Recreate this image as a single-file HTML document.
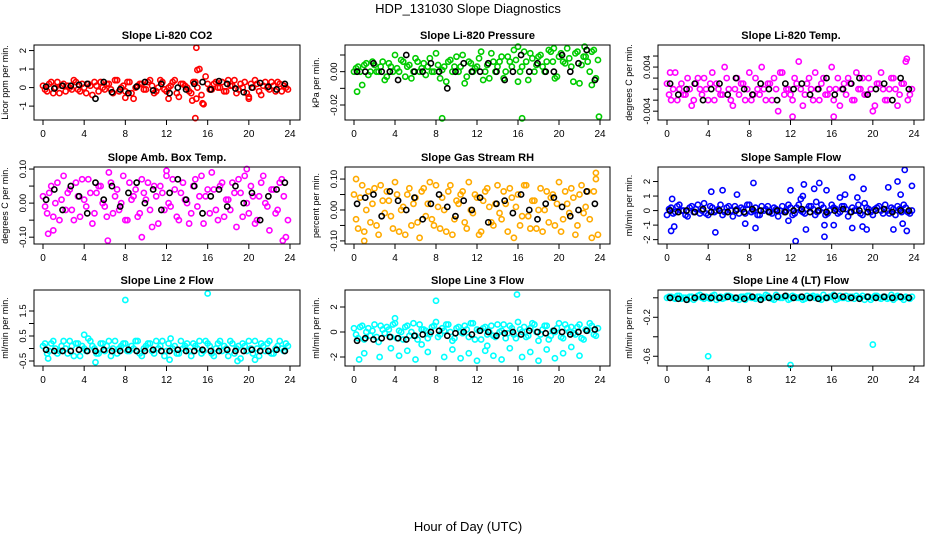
<!DOCTYPE html>
<html><head><meta charset="utf-8"><style>
html,body{margin:0;padding:0;background:#fff;}
svg{display:block;font-family:"Liberation Sans",Arial,sans-serif;}
</style></head><body>
<svg id="c" width="936" height="540" viewBox="0 0 936 540">
<text x="468" y="13" font-size="13" text-anchor="middle">HDP_131030  Slope Diagnostics</text>
<text x="468" y="531" font-size="13" text-anchor="middle">Hour of Day (UTC)</text>
</svg>
<script>
const titles=["Slope Li-820 CO2","Slope Li-820 Pressure","Slope Li-820 Temp.","Slope Amb. Box Temp.","Slope Gas Stream RH","Slope Sample Flow","Slope Line 2 Flow","Slope Line 3 Flow","Slope Line 4 (LT) Flow"];
const yLabels=["Licor ppm per min.","kPa per min.","degrees C per min.","degrees C per min.","percent per min.","ml/min per min.","ml/min per min.","ml/min per min.","ml/min per min."];
const colors=["#ff0000","#00cc00","#ff00ff","#ff00ff","#ffaa00","#0000ff","#00ffff","#00ffff","#00ffff"];
const yTicks=[[-1,0,1,2],[-0.02,-0.01,0,0.01],[-0.004,-0.002,0,0.002,0.004,0.006],[-0.1,-0.05,0,0.05,0.1],[-0.1,-0.05,0,0.05,0.1],[-2,-1,0,1,2],[-0.5,0,0.5,1,1.5],[-2,0,2],[0,-0.2,-0.4,-0.6]];
const yTickLabels=[["-1","0","1","2"],["-0.02","","0.00",""],["-0.004","","","","0.004",""],["-0.10","","0.00","","0.10"],["-0.10","","0.00","","0.10"],["-2","-1","0","1","2"],["-0.5","","0.5","","1.5"],["-2","0","2"],["","-0.2","","-0.6"]];
const yDomains=[[-1.75,2.3],[-0.029,0.016],[-0.0056,0.008],[-0.12,0.106],[-0.11,0.139],[-2.3,3.0],[-0.7,2.34],[-2.72,3.36],[-0.70,0.08]];
const xTicks=[0,4,8,12,16,20,24];
const band=[
[0.1,-0.2,0.3,0.0,-0.3,0.2,0.1,-0.1,0.3,-0.2,0.0,0.2,-0.4,0.1,0.3,-0.1,0.2,-0.3,0.4,0.0,-0.2,0.3,-0.6,0.1,0.2,-0.1,0.4,-0.3,0.0,0.3,-0.2,0.1,0.4,-0.5,0.2,0.0,-0.3,0.3,1.0,-0.9,0.2,-0.1,0.3,0.0,-0.2,0.4,0.1,-0.3,0.2,0.3,-0.6,0.0,0.2,-0.4,0.3,-0.1,0.1,0.3,-0.2,0.0],
[0.00,0.003,-0.008,0.005,0.00,0.004,0.00,0.006,-0.003,0.003,0.01,0.00,0.006,0.003,-0.004,0.008,0.00,0.005,0.003,0.00,0.011,-0.004,0.003,0.006,0.00,0.009,0.003,-0.007,0.006,0.00,0.003,0.012,0.00,-0.004,0.006,0.003,0.009,0.00,0.006,0.013,-0.006,0.003,0.006,0.011,0.00,0.009,0.003,0.006,0.012,-0.004,0.009,0.006,0.014,0.003,0.011,-0.007,0.009,0.006,0.012,-0.004],
[0.001,-0.002,0.003,0.0,-0.001,0.002,-0.003,0.001,0.0,0.002,-0.002,0.003,0.001,-0.001,0.004,0.0,-0.003,0.002,0.001,-0.002,0.003,-0.001,0.0,0.004,-0.002,0.001,0.002,-0.004,0.003,0.0,-0.001,0.002,0.005,-0.003,0.001,0.0,0.003,-0.002,0.002,-0.001,0.004,0.0,-0.003,0.001,0.002,-0.002,0.003,0.0,-0.001,0.002,-0.004,0.001,0.003,-0.002,0.0,0.002,-0.003,0.001,0.005,-0.001],
[0.02,-0.03,0.05,0.0,-0.05,0.08,0.03,-0.02,0.06,-0.04,0.01,0.07,-0.06,0.03,0.05,-0.01,0.09,-0.03,0.04,0.0,-0.05,0.06,0.02,-0.04,0.07,0.01,-0.02,0.05,-0.06,0.03,0.08,-0.01,0.04,-0.05,0.06,0.0,-0.03,0.07,0.02,-0.06,0.04,0.09,-0.02,0.05,-0.04,0.01,0.06,-0.07,0.03,0.08,-0.03,0.02,-0.05,0.06,0.0,-0.08,0.04,-0.02,0.07,-0.1],
[0.05,-0.06,0.08,0.0,-0.04,0.07,-0.08,0.03,0.06,-0.02,0.09,-0.07,0.01,0.05,-0.05,0.04,-0.09,0.07,0.02,-0.03,0.08,-0.06,0.0,0.06,-0.08,0.03,0.05,-0.04,0.09,-0.01,0.04,-0.07,0.06,0.01,-0.05,0.08,-0.03,0.02,0.07,-0.09,0.05,-0.02,0.08,-0.06,0.03,0.0,-0.07,0.06,0.04,-0.05,0.09,-0.03,0.02,0.07,-0.08,0.05,-0.01,0.06,-0.09,0.1],
[-0.3,0.2,-0.1,0.4,0.0,-0.4,0.3,0.1,-0.2,0.5,-0.3,0.2,0.0,0.4,-0.1,0.3,-0.4,0.1,0.2,-0.2,0.4,0.0,-0.3,0.3,0.1,-0.1,0.2,-0.4,0.3,0.0,0.2,-0.2,0.4,-0.1,0.1,0.3,-0.3,0.0,0.2,-0.2,0.4,0.1,-0.1,0.3,-0.4,0.2,0.0,-0.2,0.5,0.1,-0.3,0.2,0.0,0.4,-0.2,0.1,0.3,-0.1,0.2,-0.2],
[0.1,-0.2,0.2,0.0,-0.1,0.3,-0.2,0.1,0.2,-0.3,0.0,0.4,0.1,-0.2,0.2,-0.1,0.3,0.0,-0.2,0.1,0.2,-0.1,0.0,0.3,-0.3,0.1,0.2,-0.2,0.0,0.3,-0.1,0.4,0.1,-0.2,0.0,0.2,-0.3,0.1,0.3,-0.1,0.2,-0.2,0.0,0.3,0.1,-0.3,0.2,0.0,-0.4,0.1,0.3,-0.2,0.0,0.2,-0.1,0.3,-0.2,0.1,0.0,0.2],
[0.3,-0.5,0.5,0.0,-0.3,0.6,-0.8,0.2,0.4,-0.4,0.7,0.1,-0.6,0.5,0.0,-0.3,0.6,0.2,-0.5,0.4,0.8,-0.2,0.1,0.6,-0.7,0.3,0.0,0.5,-0.4,0.7,0.2,-0.6,0.4,0.0,-0.3,0.6,0.1,-0.5,0.5,-0.2,0.8,0.0,-0.4,0.3,0.6,-0.7,0.2,0.5,-0.3,0.0,0.7,-0.5,0.3,0.4,-0.2,0.6,-0.6,0.1,0.5,-0.3],
[0.0,0.01,-0.01,0.02,0.0,-0.02,0.01,0.0,0.03,-0.01,0.0,0.02,-0.02,0.01,0.0,0.02,-0.01,0.0,0.01,-0.02,0.02,0.0,0.01,-0.01,0.03,0.0,-0.02,0.01,0.0,0.02,-0.01,0.01,0.0,-0.02,0.02,0.01,0.0,-0.01,0.03,0.0,0.01,-0.02,0.02,0.0,-0.01,0.01,0.02,0.0,-0.02,0.01,0.0,0.02,-0.01,0.01,0.0,-0.02,0.02,0.0,0.01,-0.01]];
const band2=[
[-0.1,0.2,-0.3,0.3,0.1,-0.2,0.0,0.4,-0.1,0.2,-0.3,0.1,0.3,-0.2,0.0,0.2,-0.1,0.4,-0.2,0.1,0.3,-0.3,0.0,0.2,-0.1,0.3,0.1,-0.2,0.4,-0.1,0.0,0.3,-0.3,0.2,0.1,-0.2,0.3,0.0,-0.4,0.6,-0.1,0.2,0.0,0.3,-0.2,0.1,0.4,-0.1,0.0,-0.3,0.2,0.4,-0.2,0.1,0.0,0.3,-0.2,0.2,0.1,-0.1],
[0.002,0.00,0.004,-0.002,0.006,0.00,0.003,-0.005,0.005,0.00,0.002,0.007,-0.003,0.004,0.00,0.006,0.002,-0.002,0.008,0.00,0.004,0.001,-0.006,0.007,0.003,0.00,0.010,-0.003,0.005,0.002,0.008,-0.005,0.004,0.011,0.00,0.006,-0.004,0.009,0.003,0.007,0.00,0.012,-0.005,0.008,0.004,0.010,0.00,0.013,0.006,-0.003,0.011,0.005,0.008,-0.006,0.012,0.004,0.009,0.000,0.013,0.007],
[-0.001,0.0,-0.002,0.001,-0.001,0.0,-0.002,0.002,-0.001,0.0,0.001,-0.002,0.0,-0.001,0.002,-0.002,0.0,-0.001,0.001,0.0,-0.002,0.002,-0.001,0.0,0.001,-0.002,0.0,0.003,-0.001,0.0,-0.002,0.001,0.0,-0.001,0.002,-0.002,0.0,0.001,-0.001,0.0,-0.002,0.002,0.0,-0.001,0.001,-0.002,0.0,0.002,-0.001,0.0,-0.003,0.001,0.0,-0.002,0.002,0.0,-0.001,0.001,-0.002,0.0],
[-0.01,0.03,-0.04,0.06,0.01,-0.02,0.04,-0.05,0.02,0.07,-0.01,0.03,-0.03,0.05,0.0,-0.04,0.06,0.02,-0.02,0.08,-0.05,0.01,0.04,-0.03,0.03,0.06,-0.07,0.02,0.05,-0.02,0.0,0.07,-0.04,0.03,0.01,-0.06,0.05,-0.01,0.08,0.02,-0.03,0.04,-0.05,0.06,0.01,-0.02,0.03,0.07,-0.04,0.0,0.05,-0.06,0.02,0.08,-0.01,0.04,-0.03,0.06,0.02,-0.05],
[-0.03,0.04,-0.07,0.06,0.02,-0.05,0.08,-0.01,0.03,-0.06,0.05,0.0,-0.08,0.07,0.02,-0.04,0.06,-0.02,0.09,-0.05,0.01,0.04,-0.07,0.08,-0.03,0.02,0.06,-0.06,0.0,0.05,-0.08,0.03,0.07,-0.04,0.02,-0.01,0.06,-0.07,0.04,0.01,-0.05,0.08,-0.02,0.03,-0.06,0.07,0.0,-0.04,0.05,0.02,-0.07,0.06,-0.01,0.04,-0.05,0.08,0.01,-0.03,0.06,-0.08],
[0.1,-0.2,0.3,0.0,-0.3,0.2,-0.1,0.4,0.0,-0.2,0.3,-0.1,0.1,-0.3,0.2,0.0,0.3,-0.2,0.1,0.4,-0.1,0.2,-0.3,0.0,0.3,-0.2,0.1,0.0,-0.1,0.4,-0.3,0.2,0.0,-0.2,0.3,0.1,-0.1,0.4,-0.3,0.0,0.2,-0.2,0.3,0.1,-0.1,0.0,0.4,-0.3,0.2,-0.1,0.1,0.3,-0.2,0.0,0.2,-0.3,0.1,0.4,-0.1,0.0],
[0.2,-0.1,0.3,-0.2,0.1,0.0,0.3,-0.3,0.2,0.1,-0.1,0.3,0.0,-0.2,0.2,0.1,-0.3,0.3,0.0,0.2,-0.1,0.1,0.3,-0.2,0.0,0.2,-0.1,0.3,0.1,-0.3,0.2,0.0,-0.2,0.3,0.1,-0.1,0.2,0.0,-0.2,0.3,0.1,-0.3,0.2,-0.1,0.0,0.3,-0.2,0.1,0.2,-0.1,0.0,0.3,-0.3,0.1,0.2,-0.2,0.0,0.3,-0.1,0.1],
[-0.2,0.4,-0.6,0.3,0.1,-0.4,0.5,-0.1,0.2,0.6,-0.5,0.0,0.4,-0.3,0.7,-0.6,0.2,0.1,-0.2,0.5,-0.4,0.3,0.6,0.0,-0.5,0.4,-0.1,0.2,0.7,-0.6,0.1,0.3,-0.2,0.5,-0.4,0.0,0.6,-0.1,0.3,-0.5,0.2,0.4,-0.3,0.7,0.0,-0.2,0.5,-0.6,0.1,0.3,-0.4,0.6,0.0,-0.1,0.4,-0.5,0.2,0.7,-0.2,0.3],
[0.01,0.0,0.02,-0.01,0.0,0.01,-0.02,0.02,0.0,0.01,-0.01,0.03,0.0,-0.01,0.02,0.01,0.0,-0.02,0.01,0.02,0.0,-0.01,0.01,0.0,0.02,-0.01,0.03,0.0,0.01,-0.02,0.02,0.0,0.01,-0.01,0.0,0.02,0.01,-0.02,0.0,0.01,0.03,-0.01,0.0,0.02,0.01,-0.01,0.0,0.02,0.01,-0.02,0.02,0.0,0.01,-0.01,0.03,0.0,0.01,-0.02,0.0,0.01]];
const outliers=[
[[14.9,2.15],[15.0,0.95],[14.8,-1.65],[15.5,-0.85],[14.9,-0.6],[14.5,-0.7],[12.2,-0.6],[8.0,-0.55],[20.0,-0.5]],
[[0.3,-0.012],[8.6,-0.028],[16.4,-0.028],[23.9,-0.027],[16.0,0.015],[22.5,0.015],[19.5,0.014],[23.2,-0.008]],
[[0.3,0.003],[12.2,-0.005],[23.3,0.0055],[16.2,-0.005]],
[[0.5,-0.09],[9.6,-0.1],[12.0,0.095],[23.3,-0.11],[19.8,0.1],[1.0,-0.08],[6.3,-0.11]],
[[0.2,0.1],[23.6,0.12],[1.0,-0.1]],
[[0.4,-1.4],[0.5,0.8],[0.7,-1.1],[4.7,-1.5],[4.3,1.3],[5.4,1.4],[8.4,1.9],[8.6,-1.2],[7.6,-0.9],[12.0,1.4],[12.5,-2.1],[13.3,1.8],[13.5,-1.3],[13.2,1.0],[14.3,1.5],[14.8,1.9],[15.3,-1.8],[15.5,1.4],[15.3,-1.0],[16.2,-1.0],[17.3,1.1],[18.0,2.3],[18.0,-1.2],[18.5,0.9],[19.1,1.5],[19.4,-1.3],[19.0,-1.1],[21.5,1.6],[22.0,-1.3],[22.4,2.0],[23.1,2.8],[23.3,-1.4],[23.8,1.7],[22.7,1.1],[22.9,-0.9],[13.0,0.8],[11.8,-0.7],[6.8,1.1],[16.8,0.9],[14.5,0.6]],
[[8.0,1.94],[16.0,2.2],[4.0,0.55],[12.3,-0.45],[18.9,-0.5],[20.6,-0.45],[0.5,-0.4],[5.1,-0.55]],
[[0.5,-2.2],[1.0,-1.7],[2.5,-2.0],[3.6,-1.3],[4.4,-1.9],[5.2,-1.5],[6.0,-2.2],[7.2,-1.6],[8.0,2.5],[8.8,-2.0],[9.6,-1.4],[10.4,-2.1],[11.2,-1.7],[12.0,-2.3],[12.8,-1.5],[13.6,-1.9],[14.4,-2.2],[15.2,-1.3],[15.9,3.0],[16.4,-2.0],[17.2,-1.6],[18.0,-2.3],[18.8,-1.4],[19.6,-2.1],[20.4,-1.7],[21.2,-1.2],[22.0,-1.9],[4.0,1.1],[6.6,-1.0],[13.0,-1.1]],
[[4.0,-0.6],[12.0,-0.69],[20.0,-0.48]]];
const black=[
[0.05,-0.05,0.1,0.1,0.15,0.2,-0.6,0.3,-0.25,-0.1,-0.3,0.05,0.3,-0.15,0.2,-0.3,0.0,-0.1,0.2,0.3,-0.1,0.35,0.2,-0.05,-0.25,0.0,0.25,0.05,-0.1,0.2],
[0.0,0.0,0.005,0.0,0.0,-0.005,0.01,0.0,0.0,0.005,0.0,-0.01,0.0,0.005,0.0,0.0,0.005,0.0,-0.005,0.0,0.01,0.0,0.005,0.0,0.0,0.01,0.0,0.005,0.013,-0.005],
[0.001,-0.001,0.0,0.001,-0.002,0.0,0.001,-0.001,0.002,0.0,-0.001,0.001,0.0,-0.002,0.001,0.0,0.001,-0.001,0.0,0.002,-0.001,0.0,0.001,0.002,-0.001,0.0,0.001,-0.002,0.002,0.0],
[0.01,0.04,-0.02,0.05,0.02,-0.03,0.06,0.01,0.05,-0.01,0.03,0.06,0.0,0.04,-0.02,0.03,0.07,0.01,0.05,-0.03,0.02,0.04,-0.01,0.05,0.0,0.03,-0.05,0.02,0.04,0.06],
[0.02,0.04,0.05,-0.02,0.06,0.03,0.0,0.04,-0.03,0.02,0.05,0.01,-0.02,0.03,0.0,0.04,-0.04,0.02,0.03,-0.01,0.05,0.0,-0.03,0.02,0.04,0.01,-0.02,0.0,0.06,0.02],
[0.0,-0.1,0.0,-0.1,0.1,-0.1,0.0,-0.1,0.0,-0.1,0.1,0.0,-0.1,0.0,-0.1,0.0,0.1,-0.1,0.0,-0.1,0.0,0.1,-0.1,0.0,-0.1,0.0,0.1,-0.1,0.0,0.0],
[-0.05,-0.1,-0.1,-0.1,-0.05,-0.1,-0.1,-0.05,-0.1,-0.1,-0.05,-0.1,-0.1,-0.05,-0.1,-0.1,-0.05,-0.1,-0.1,-0.05,-0.1,-0.1,-0.05,-0.1,-0.1,-0.05,-0.1,-0.1,-0.05,-0.1],
[-0.7,-0.5,-0.6,-0.5,-0.4,-0.5,-0.6,-0.3,-0.2,0.0,0.1,-0.3,-0.1,0.0,-0.2,0.1,0.0,-0.3,-0.1,0.0,-0.2,0.1,0.0,-0.1,0.1,0.0,-0.2,0.0,0.1,0.2],
[0.0,-0.01,-0.02,0.0,0.01,0.0,0.0,0.01,0.0,-0.01,0.01,-0.02,0.0,0.01,0.02,0.0,0.01,0.0,-0.01,0.0,0.02,0.01,0.0,-0.01,0.01,0.0,0.01,0.0,0.01,0.0]];

const NS="http://www.w3.org/2000/svg";
const svg=document.getElementById('c');
const colL=[34,345,658],colR=[300,610,924],rowT=[45,167,290],rowB=[120,244,366];
function mk(tag,attrs,parent){const e=document.createElementNS(NS,tag);for(const k in attrs)e.setAttribute(k,attrs[k]);(parent||svg).appendChild(e);return e;}
for(let p=0;p<9;p++){
  const L=colL[p%3],R=colR[p%3],T=rowT[Math.floor(p/3)],B=rowB[Math.floor(p/3)];
  const g=mk('g',{});
  
  
  const xs=v=>L+9+v/24*(R-L-19);
  const d=yDomains[p];
  const ys=v=>B-(v-d[0])/(d[1]-d[0])*(B-T);
  const t=mk('text',{x:(L+R)/2,y:T-6,'font-size':11,'font-weight':'bold','text-anchor':'middle'},g);
  t.textContent=titles[p];
  
  
  const cx=L-26,cy=(T+B)/2;
  const yl=mk('text',{x:cx,y:cy,'font-size':9,'text-anchor':'middle',transform:`rotate(-90 ${cx} ${cy})`},g);
  yl.textContent=yLabels[p];
  
  
  xTicks.forEach(v=>{
    const x=xs(v);
    mk('line',{x1:x,x2:x,y1:B,y2:B+5,stroke:'#000'},g);
    const tl=mk('text',{x:x,y:B+17,'font-size':10,'text-anchor':'middle'},g);
    tl.textContent=v;
    
    
  });
  yTicks[p].forEach((v,i)=>{
    const y=ys(v);
    mk('line',{x1:L-5,x2:L,y1:y,y2:y,stroke:'#000'},g);
    const tx=L-8;
    const tl=mk('text',{x:tx,y:y,'font-size':9.5,'text-anchor':'middle',transform:`rotate(-90 ${tx} ${y})`},g);
    tl.textContent=yTickLabels[p][i];
    
    
  });
  const col=colors[p];
  band[p].forEach((v,i)=>{
    const c=mk('circle',{cx:xs(i*0.4),cy:ys(v),r:2.6,fill:'none',stroke:col,'stroke-width':1.6},g);
    
    
  });
  band2[p].forEach((v,i)=>{
    const c=mk('circle',{cx:xs(i*0.4+0.2),cy:ys(v),r:2.6,fill:'none',stroke:col,'stroke-width':1.6},g);
    
    
  });
  outliers[p].forEach(o=>{
    const c=mk('circle',{cx:xs(o[0]),cy:ys(o[1]),r:2.6,fill:'none',stroke:col,'stroke-width':1.6},g);
    
    
  });
  black[p].forEach((v,i)=>{
    const c=mk('circle',{cx:xs(0.3+i*0.8),cy:ys(v),r:2.6,fill:'none',stroke:'#000','stroke-width':1.6},g);
    
    
  });
  const box=mk('rect',{x:L,y:T,width:R-L,height:B-T,fill:'none',stroke:'#000'},g);
  
  
}
</script>
</body></html>
